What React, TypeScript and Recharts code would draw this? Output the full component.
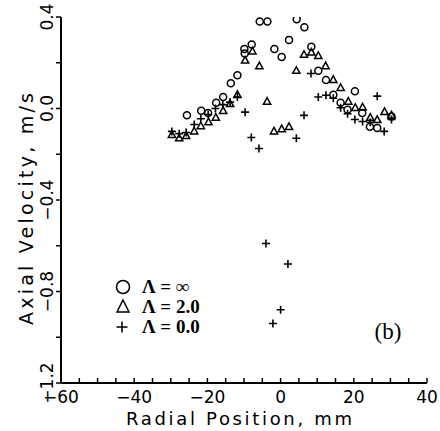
import React from "react";
import { ScatterChart, Scatter, XAxis, YAxis } from "recharts";

// tick positions (minor + major)
const xTicks = [-60, -55, -50, -45, -40, -35, -30, -25, -20, -15, -10, -5, 0, 5, 10, 15, 20, 25, 30, 35, 40];
const xLabels = [-60, -40, -20, 0, 20, 40];
const yTicks = [-1.2, -1.0, -0.8, -0.6, -0.4, -0.2, 0, 0.2, 0.4];
const yLabels = [-1.2, -0.8, -0.4, 0, 0.4];

// Lambda = infinity (circles)
const circleX = [-25.6, -21.7, -19.8, -17.6, -15.7, -13.6, -11.8, -9.9, -9.8, -7.9, -5.7, -3.6, -1.7, 0.3, 2.3, 4.4, 6.5, 8.4, 10.3, 12.4, 14.4, 16.4, 18.3, 20.3, 22.3, 24.4, 26.4, 30.3];
const circleY = [-0.03, -0.01, -0.02, 0.025, 0.05, 0.11, 0.145, 0.26, 0.24, 0.28, 0.38, 0.38, 0.26, 0.225, 0.3, 0.39, 0.355, 0.27, 0.165, 0.125, 0.06, 0.025, -0.005, 0.075, -0.02, -0.08, -0.085, -0.035];

// Lambda = 2.0 (triangles)
const triX = [-29.7, -27.7, -25.8, -23.6, -21.8, -19.7, -17.7, -15.7, -13.8, -11.8, -9.7, -7.7, -5.8, -3.7, -1.8, 0.3, 2.3, 4.3, 6.4, 8.4, 10.3, 12.3, 14.4, 16.4, 18.5, 20.4, 22.4, 24.5, 26.4, 28.4, 30.3];
const triY = [-0.115, -0.13, -0.12, -0.1, -0.077, -0.06, -0.04, -0.01, 0.02, 0.06, 0.21, 0.25, 0.185, 0.03, -0.1, -0.09, -0.08, 0.165, 0.235, 0.245, 0.23, 0.185, 0.125, 0.09, 0.03, 0.003, 0.005, -0.04, -0.05, -0.015, -0.03];

// Lambda = 0.0 (crosses)
const crossX = [-29.7, -27.7, -25.8, -23.6, -21.8, -19.8, -17.8, -15.8, -13.8, -11.8, -9.7, -8.0, -5.9, -4.0, -2.1, 0, 2.0, 4.3, 6.4, 8.3, 10.3, 12.4, 14.4, 16.4, 18.3, 20.3, 22.4, 24.5, 26.4, 28.3, 30.3];
const crossY = [-0.1, -0.11, -0.105, -0.07, -0.045, -0.026, 0.0, 0.017, 0.028, 0.05, -0.016, -0.127, -0.175, -0.59, -0.94, -0.88, -0.68, -0.13, -0.03, 0.153, 0.05, 0.058, 0.045, 0.003, -0.023, -0.048, -0.057, -0.06, 0.054, -0.1, -0.048];

const zip = (xs: number[], ys: number[]) => xs.map((x, i) => ({ x, y: ys[i] }));

const circles = zip(circleX, circleY);
const triangles = zip(triX, triY);
const crosses = zip(crossX, crossY);

const SANS = "DejaVu Sans, sans-serif";
const SERIF = "Liberation Serif, serif";

const fmt = (v: number, digits: number) =>
  (Math.abs(v) < 1e-9 ? 0 : v).toFixed(digits).replace("-", "\u2212");

const CircleMark = ({ cx, cy }: any) => (
  <circle cx={cx} cy={cy} r={3.5} fill="none" stroke="#000" strokeWidth={1.5} />
);
const TriMark = ({ cx, cy }: any) => (
  <path
    d={`M${cx},${cy - 4}L${cx + 3.6},${cy + 2.6}L${cx - 3.6},${cy + 2.6}Z`}
    fill="none"
    stroke="#000"
    strokeWidth={1.5}
  />
);
const CrossMark = ({ cx, cy }: any) => (
  <path d={`M${cx - 4},${cy}H${cx + 4}M${cx},${cy - 4}V${cy + 4}`} stroke="#000" strokeWidth={1.6} />
);

const XTick = ({ x, y, payload }: any) => {
  const v = payload.value;
  const major = xLabels.includes(v);
  return (
    <g>
      <line x1={x} x2={x} y1={y} y2={y - 5} stroke="#000" strokeWidth={1.5} />
      {major && (
        <text x={x} y={y + 20} textAnchor="middle" fontSize={17} fontFamily={SANS} fill="#000">
          {fmt(v, 0)}
        </text>
      )}
    </g>
  );
};

const YTick = ({ x, y, payload }: any) => {
  const v = payload.value;
  const major = yLabels.some((l) => Math.abs(l - v) < 1e-6);
  const tx = x - 8;
  return (
    <g>
      <line x1={x} x2={x - 5} y1={y} y2={y} stroke="#000" strokeWidth={1.5} />
      {major && (
        <text
          x={tx}
          y={y}
          transform={`rotate(-90 ${tx} ${y})`}
          textAnchor="middle"
          fontSize={17}
          fontFamily={SANS}
          fill="#000"
        >
          {fmt(v, 1)}
        </text>
      )}
    </g>
  );
};

export default function App() {
  return (
    <div style={{ position: "absolute", left: 0, top: 0, width: 440, height: 431, background: "#fff" }}>
      <ScatterChart width={440} height={431} margin={{ top: 17, right: 13, bottom: 0, left: 0 }}>
        <XAxis
          type="number"
          dataKey="x"
          domain={[-60, 40]}
          ticks={xTicks}
          interval={0}
          height={48}
          tickSize={0}
          tickMargin={0}
          tickLine={false}
          tick={<XTick />}
          axisLine={{ stroke: "#000", strokeWidth: 2 }}
          allowDataOverflow
        />
        <YAxis
          type="number"
          dataKey="y"
          domain={[-1.2, 0.4]}
          ticks={yTicks}
          interval={0}
          width={61}
          tickSize={0}
          tickMargin={0}
          tickLine={false}
          tick={<YTick />}
          axisLine={{ stroke: "#000", strokeWidth: 2 }}
          allowDataOverflow
        />
        <Scatter data={circles} shape={<CircleMark />} isAnimationActive={false} />
        <Scatter data={triangles} shape={<TriMark />} isAnimationActive={false} />
        <Scatter data={crosses} shape={<CrossMark />} isAnimationActive={false} />
      </ScatterChart>
      <svg width={440} height={431} style={{ position: "absolute", left: 0, top: 0, pointerEvents: "none" }}>
        <text
          transform="translate(33 209) rotate(-90)"
          textAnchor="middle"
          fontSize={19}
          fontFamily={SANS}
          textLength={232}
          lengthAdjust="spacing"
        >
          Axial Velocity, m/s
        </text>
        <text x={239} y={425} textAnchor="middle" fontSize={18} fontFamily={SANS} textLength={226} lengthAdjust="spacing">
          Radial Position, mm
        </text>
        <circle cx={123} cy={287} r={6.5} fill="none" stroke="#000" strokeWidth={1.5} />
        <text x={142} y={293} fontSize={19} fontWeight="bold" fontFamily={SERIF}>
          {"\u039B = \u221E"}
        </text>
        <path d="M123,300L129,312L117,312Z" fill="none" stroke="#000" strokeWidth={1.5} />
        <text x={142} y={313} fontSize={19} fontWeight="bold" fontFamily={SERIF}>
          {"\u039B = 2.0"}
        </text>
        <path d="M116.5,327H127.5M122,321.5V332.5" stroke="#000" strokeWidth={1.5} />
        <text x={142} y={333} fontSize={19} fontWeight="bold" fontFamily={SERIF}>
          {"\u039B = 0.0"}
        </text>
        <text x={388} y={339} textAnchor="middle" fontSize={23} fontFamily={SERIF}>
          (b)
        </text>
      </svg>
    </div>
  );
}
